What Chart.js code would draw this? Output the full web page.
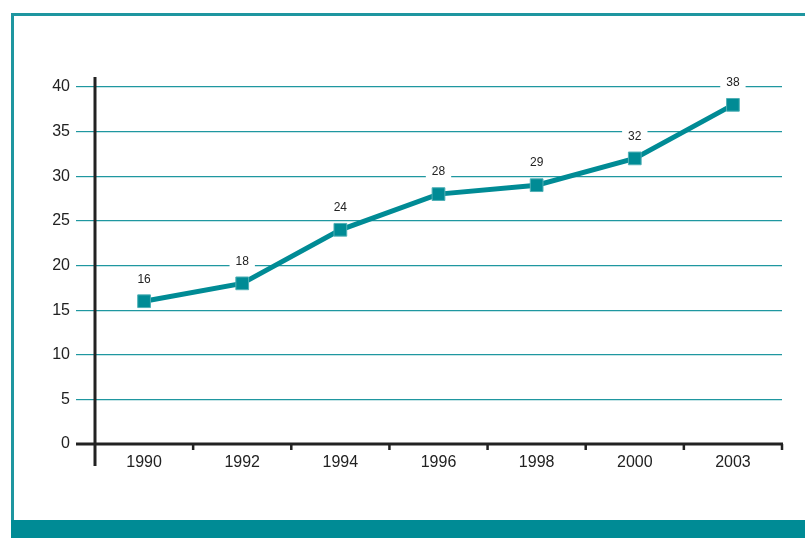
<!DOCTYPE html>
<html>
<head>
<meta charset="utf-8">
<script src="https://cdn.jsdelivr.net/npm/chart.js@4"></script>
<style>
  html, body { margin: 0; padding: 0; background: #fff; }
  #wrap { width: 805px; height: 538px; }
</style>
</head>
<body>
<div id="wrap"><canvas id="chart" width="805" height="538"></canvas></div>
<script>
const years = ['1990', '1992', '1994', '1996', '1998', '2000', '2003'];
const values = [16, 18, 24, 28, 29, 32, 38];
const yTicks = [0, 5, 10, 15, 20, 25, 30, 35, 40];

const TEAL = '#008b95';
const GRID = '#1f97a0';

// frame, axes and value labels drawn on top of the chart
const decor = {
    id: 'decor',
    beforeDraw(chart) {
        const ctx = chart.ctx;
        ctx.save();
        ctx.strokeStyle = '#1e96a0';
        ctx.lineWidth = 3;
        ctx.beginPath();
        ctx.moveTo(12.5, 521);
        ctx.lineTo(12.5, 14.5);
        ctx.lineTo(810, 14.5);
        ctx.stroke();
        ctx.fillStyle = TEAL;
        ctx.fillRect(11, 520, 800, 20);
        ctx.restore();
    },
    afterDatasetsDraw(chart) {
        const ctx = chart.ctx;
        const area = chart.chartArea;
        ctx.save();
        // axes
        ctx.strokeStyle = '#222';
        ctx.lineWidth = 3;
        ctx.beginPath();
        ctx.moveTo(area.left, area.top - 10);
        ctx.lineTo(area.left, area.bottom + 22);
        ctx.moveTo(area.left - 19, area.bottom);
        ctx.lineTo(area.right + 1, area.bottom);
        ctx.stroke();
        ctx.lineWidth = 2.5;
        ctx.beginPath();
        const step = (area.right - area.left) / years.length;
        for (let i = 1; i <= years.length; i++) {
            const x = area.left + step * i;
            ctx.moveTo(x, area.bottom);
            ctx.lineTo(x, area.bottom + 6);
        }
        ctx.stroke();
        // value labels
        ctx.font = '12px "Liberation Sans", Arial, sans-serif';
        ctx.textAlign = 'center';
        ctx.textBaseline = 'middle';
        const meta = chart.getDatasetMeta(0);
        meta.data.forEach((pt, i) => {
            const txt = String(values[i]);
            const w = ctx.measureText(txt).width + 12;
            const y = pt.y - 22;
            ctx.fillStyle = '#fff';
            ctx.fillRect(pt.x - w / 2, y - 7, w, 14);
            ctx.fillStyle = '#222';
            ctx.fillText(txt, pt.x, y);
        });
        ctx.restore();
    }
};

new Chart(document.getElementById('chart'), {
    type: 'line',
    data: {
        labels: years,
        datasets: [{
            data: values,
            borderColor: TEAL,
            borderWidth: 5,
            backgroundColor: TEAL,
            pointStyle: 'rect',
            pointRadius: 9,
            pointBorderColor: '#4fb0b6',
            pointBorderWidth: 1,
            pointBackgroundColor: TEAL,
            tension: 0
        }]
    },
    options: {
        responsive: false,
        animation: false,
        layout: { padding: { top: 87, right: 23, left: 0, bottom: 0 } },
        plugins: { legend: { display: false }, tooltip: { enabled: false } },
        scales: {
            x: {
                offset: true,
                grid: { display: false },
                border: { display: false },
                ticks: { color: '#222', padding: 1, font: { size: 16, family: '"Liberation Sans", Arial, sans-serif' } },
                afterFit: s => { s.height = 94; }
            },
            y: {
                min: 0,
                max: 40,
                afterBuildTicks: s => { s.ticks = yTicks.map(v => ({ value: v })); },
                grid: { color: GRID, lineWidth: 1.2, tickLength: 19, drawTicks: true },
                border: { display: false },
                ticks: { color: '#222', padding: 6, font: { size: 16, family: '"Liberation Sans", Arial, sans-serif' } },
                afterFit: s => { s.width = 95; }
            }
        }
    },
    plugins: [decor]
});
</script>
</body>
</html>
